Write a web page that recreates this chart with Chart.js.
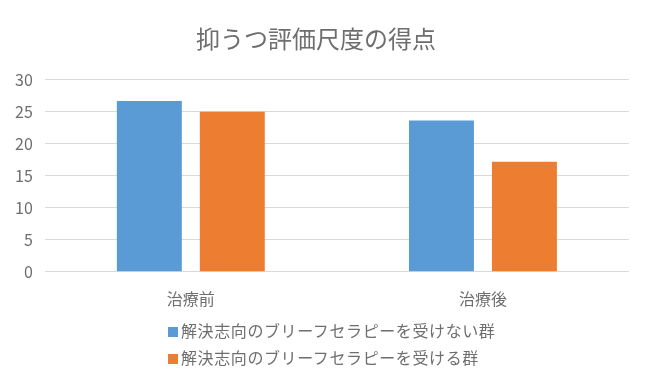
<!DOCTYPE html>
<html>
<head>
<meta charset="utf-8">
<script src="https://cdn.jsdelivr.net/npm/chart.js@4/dist/chart.umd.min.js"></script>
<style>
  body { margin: 0; background: #fff; }
  #wrap { position: relative; width: 650px; height: 392px; }
  #leyenda { position: absolute; left: 168px; top: 320px; font-family: "Noto Sans CJK JP", sans-serif; font-size: 16px; letter-spacing: 0.6px; color: #6e6e6e; }
  #leyenda div { height: 27px; line-height: 20px; }
  #leyenda span.caja { display: inline-block; width: 10px; height: 10px; margin-right: 3px; vertical-align: 0px; }
</style>
</head>
<body>
<div id="wrap">
  <canvas id="grafica"></canvas>
  <div id="leyenda"></div>
</div>
<script>
const titulo = '抑うつ評価尺度の得点';
const categorias = ['治療前', '治療後'];
const grupos = ['解決志向のブリーフセラピーを受けない群', '解決志向のブリーフセラピーを受ける群'];
const sinTerapia = [26.7, 23.65];
const conTerapia = [25.0, 17.2];
const colores = ['#5B9BD5', '#ED7D31'];
const ticksY = [0, 5, 10, 15, 20, 25, 30];

const series = [sinTerapia, conTerapia];
const fuente = '"Noto Sans CJK JP", "Noto Sans", sans-serif';
const gris = '#6e6e6e';

const ctx = document.getElementById('grafica').getContext('2d');
const chart = new Chart(ctx, {
  type: 'bar',
  data: {
    labels: categorias,
    datasets: grupos.map((g, i) => ({
      label: g,
      data: series[i],
      backgroundColor: colores[i],
      borderWidth: 0,
      categoryPercentage: 0.568,
      barPercentage: 0.783
    }))
  },
  options: {
    responsive: true,
    maintainAspectRatio: false,
    animation: false,
    layout: { padding: { left: 3, right: 21, bottom: 73, top: 0 } },
    plugins: {
      legend: { display: false },
      tooltip: { enabled: false },
      title: {
        display: true,
        text: titulo,
        color: gris,
        font: { family: fuente, size: 24, weight: 'normal' },
        padding: { top: 24, bottom: 27 }
      }
    },
    scales: {
      x: {
        grid: { display: false },
        border: { display: false },
        ticks: { color: gris, font: { family: fuente, size: 16 }, padding: 10 }
      },
      y: {
        min: ticksY[0],
        max: ticksY[ticksY.length - 1],
        afterBuildTicks: (axis) => { axis.ticks = ticksY.map(v => ({ value: v })); },
        grid: { color: '#d9d9d9', drawTicks: false },
        border: { display: false },
        ticks: { color: gris, font: { family: fuente, size: 16 }, padding: 12 }
      }
    }
  }
});

const leyenda = document.getElementById('leyenda');
chart.data.datasets.forEach(ds => {
  const fila = document.createElement('div');
  const caja = document.createElement('span');
  caja.className = 'caja';
  caja.style.background = ds.backgroundColor;
  fila.appendChild(caja);
  fila.appendChild(document.createTextNode(ds.label));
  leyenda.appendChild(fila);
});
</script>
</body>
</html>
